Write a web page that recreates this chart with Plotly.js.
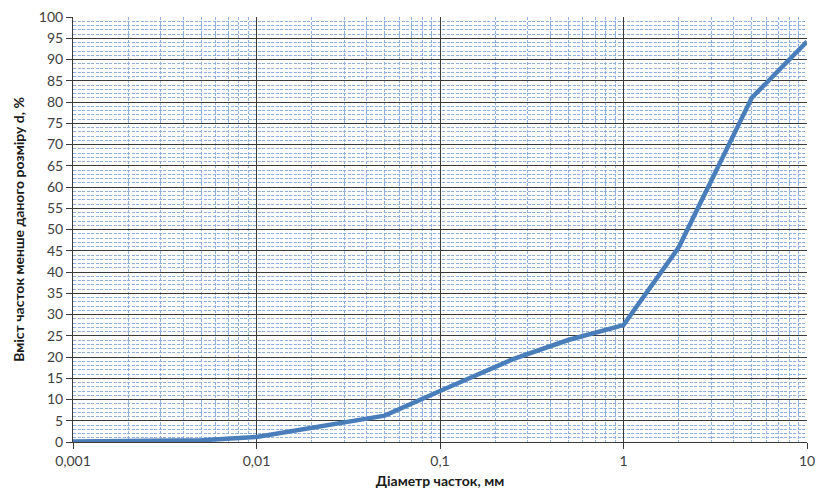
<!DOCTYPE html>
<html><head><meta charset="utf-8">
<script src="https://cdn.plot.ly/plotly-3.0.1.min.js"></script>
<style>html,body{margin:0;padding:0;background:#fff;}#chart{width:819px;height:493px;}</style>
</head><body><div id="chart"></div>
<script>
const diameters = [0.001, 0.005, 0.01, 0.02, 0.05, 0.1, 0.25, 0.5, 1, 2, 5, 10];
const passing   = [0.1,   0.4,   1.2,  3.3,  6.2,  12,  19.5, 24,  27.5, 45.8, 81, 94.2];
const xTickVals = [0.001, 0.01, 0.1, 1, 10];
const xTickText = ['0,001', '0,01', '0,1', '1', '10'];
const xTitle = 'Діаметр часток, мм';
const yTitle = 'Вміст часток менше даного розміру d, %';

const font = 'Lato, "Open Sans", sans-serif';
Plotly.newPlot('chart', [{
  x: diameters, y: passing, type: 'scatter', mode: 'lines',
  line: {color: '#4a7ebb', width: 4.5}, hoverinfo: 'skip'
}], {
  width: 819, height: 493,
  margin: {l: 73, r: 12, t: 17, b: 51},
  paper_bgcolor: '#fff', plot_bgcolor: '#fff',
  showlegend: false,
  separators: ', ',
  xaxis: {
    type: 'log', range: [-3, 1],
    tickvals: xTickVals, ticktext: xTickText,
    showgrid: true, gridcolor: '#3a3a3a', gridwidth: 1,
    ticks: 'outside', ticklen: 6, tickcolor: '#3a3a3a',
    showline: true, linecolor: '#3a3a3a', linewidth: 1, mirror: false,
    zeroline: false,
    tickfont: {family: font, size: 14, color: '#404040'},
    minor: {dtick: 'D1', showgrid: true, gridcolor: '#8fb0dc', griddash: '3px,1.5px', gridwidth: 1, ticks: ''},
    title: {text: xTitle, font: {family: font, size: 14, color: '#1a1a1a', weight: 'bold'}, standoff: 8}
  },
  yaxis: {
    range: [0, 100], dtick: 5, tick0: 0,
    showgrid: true, gridcolor: '#3a3a3a', gridwidth: 1,
    ticks: 'outside', ticklen: 6, tickcolor: '#3a3a3a',
    showline: true, linecolor: '#3a3a3a', linewidth: 1,
    zeroline: false,
    tickfont: {family: font, size: 14, color: '#404040'},
    minor: {dtick: 1, showgrid: true, gridcolor: '#8fb0dc', griddash: '3px,1.5px', gridwidth: 1, ticks: ''},
    title: {text: yTitle, font: {family: font, size: 14, color: '#1a1a1a', weight: 'bold'}, standoff: 10}
  }
}, {staticPlot: true});
</script></body></html>
